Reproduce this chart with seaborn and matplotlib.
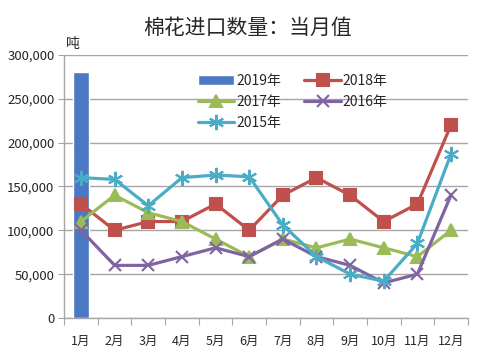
import numpy as np
import pandas as pd
import matplotlib
matplotlib.use("Agg")
import matplotlib.pyplot as plt
import seaborn as sns
from matplotlib.ticker import FuncFormatter

sns.set_style("white")
plt.rcParams['font.family'] = ['Noto Sans CJK SC', 'DejaVu Sans']

# data
months = ['1月', '2月', '3月', '4月', '5月', '6月', '7月', '8月', '9月', '10月', '11月', '12月']
y2019 = [280000]
y2018 = [130000, 100000, 110000, 110000, 130000, 100000, 140000, 160000, 140000, 110000, 130000, 220000]
y2017 = [110000, 140000, 120000, 110000, 90000, 70000, 90000, 80000, 90000, 80000, 70000, 100000]
y2016 = [100000, 60000, 60000, 70000, 80000, 70000, 90000, 70000, 60000, 40000, 50000, 140000]
y2015 = [160000, 158000, 128000, 160000, 163000, 161000, 106000, 70000, 50000, 42000, 85000, 187000]

fig = plt.figure(figsize=(4.94, 3.62), dpi=100)
ax = fig.add_axes([0.13, 0.1215, 0.817, 0.727])

x = np.arange(len(months))

# 2019 bar (only January)
sns.barplot(x=x[:1], y=y2019, ax=ax, color='#4A78C2', width=0.45, native_scale=True,
            saturation=1, label='2019年', zorder=2)

series = [
    ('2018年', y2018, '#C0504D', 's', 8),
    ('2017年', y2017, '#9BBB59', '^', 8),
    ('2016年', y2016, '#8064A2', 'x', 9),
    ('2015年', y2015, '#4BACC6', (6, 2, 0), 11),
]
for name, vals, col, mk, ms in series:
    sns.lineplot(x=x, y=vals, ax=ax, color=col, marker=mk, markersize=ms,
                 markeredgecolor=col, markeredgewidth=1.5, linewidth=2.3,
                 label=name, zorder=3)

ax.set_xlim(-0.5, 11.5)
ax.set_ylim(0, 300000)
ax.set_yticks(np.arange(0, 300001, 50000))
ax.yaxis.set_major_formatter(FuncFormatter(lambda v, p: f'{int(v):,}'))
ax.yaxis.grid(True, color='#A6A6A6', linewidth=1)
ax.set_axisbelow(True)

ax.set_xticks(np.arange(-0.5, 12, 1))
ax.set_xticklabels([])
ax.set_xticks(x, minor=True)
ax.set_xticklabels(months, minor=True)
ax.tick_params(axis='x', which='major', length=5, color='#A6A6A6', direction='out', bottom=True)
ax.tick_params(axis='x', which='minor', length=0, pad=12, labelsize=9)
ax.tick_params(axis='y', length=4, color='#A6A6A6', direction='out', left=True, labelsize=9.5, pad=3)
ax.set_xlabel('')
ax.set_ylabel('')

for s in ['top', 'right']:
    ax.spines[s].set_visible(False)
for s in ['left', 'bottom']:
    ax.spines[s].set_color('#A6A6A6')
    ax.spines[s].set_linewidth(1)

handles, labels = ax.get_legend_handles_labels()
lookup = dict(zip(labels, handles))
order = ['2019年', '2017年', '2015年', '2018年', '2016年']
ax.legend([lookup[k] for k in order], order, ncol=2, loc='upper left',
          bbox_to_anchor=(0.3, 0.975), frameon=False, fontsize=10,
          handlelength=2.6, columnspacing=1.7, labelspacing=0.5, handletextpad=0.15)

fig.text(0.502, 0.922, '棉花进口数量：当月值', ha='center', va='center', fontsize=15)
ax.text(0.005, 1.015, '吨', transform=ax.transAxes, fontsize=10, ha='left', va='bottom')

fig.savefig('out.png', dpi=100)
